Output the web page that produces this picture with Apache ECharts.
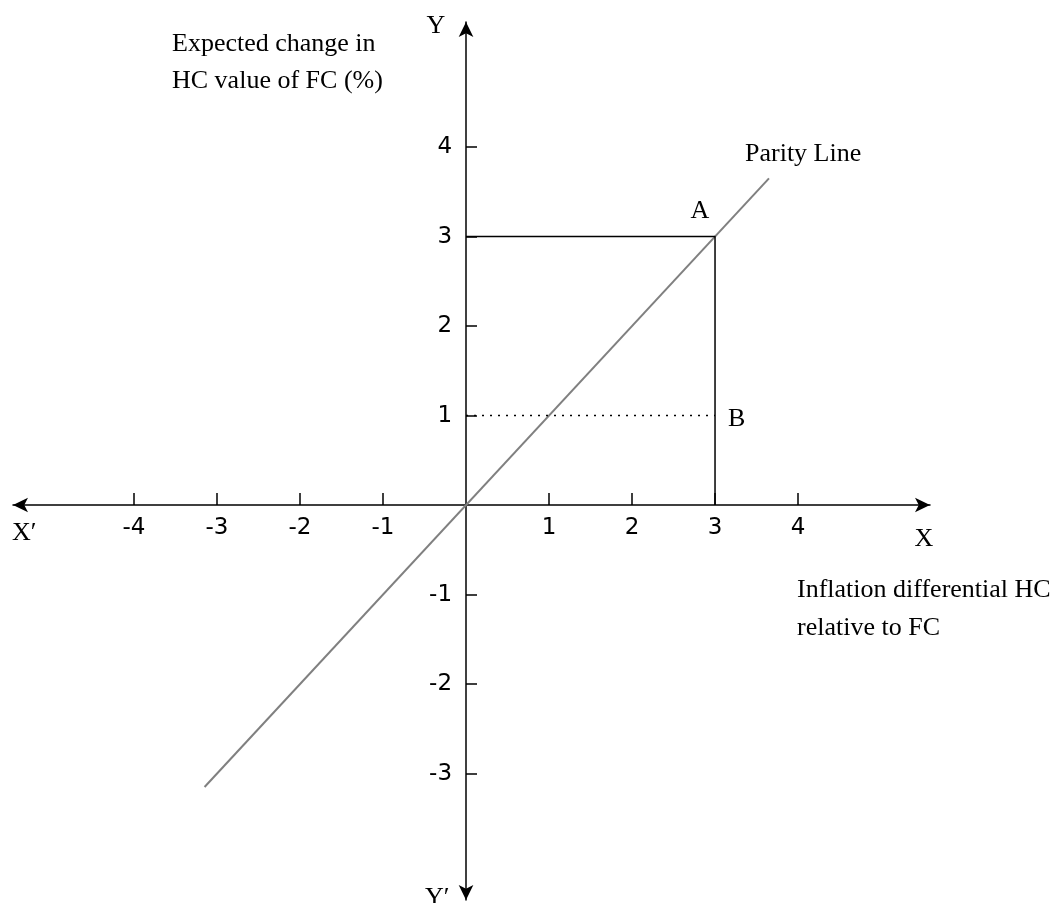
<!DOCTYPE html>
<html>
<head>
<meta charset="utf-8">
<script src="https://cdn.jsdelivr.net/npm/echarts@6/dist/echarts.min.js"></script>
<style>
html,body{margin:0;padding:0;background:#fff;}
#chart{width:1053px;height:903px;}
</style>
</head>
<body>
<div id="chart"></div>
<script>
// ---- data ----
const xTickValues = [-4, -3, -2, -1, 1, 2, 3, 4];
const yTickValues = [-3, -2, -1, 1, 2, 3, 4];
const parityLine = [[-3.15, -3.15], [3.65, 3.65]];
const pointA = [3, 3];
const pointB = [3, 1];
const rectPath = [[0, pointA[1]], pointA, [pointA[0], 0]];
const dottedPath = [[0, pointB[1]], pointB];

// axis extents (in data units)
const xMin = -5.458, xMax = 5.590;
const yMin = -4.413, yMax = 5.397;

// layout
const gridLeft = 13, gridRight = 123, gridTop = 22, gridBottom = 3;
const W = 1053, H = 903;
const plotW = W - gridLeft - gridRight, plotH = H - gridTop - gridBottom;
// pixel distance from grid edge to the zero lines (so axes sit on zero)
const xAxisOffset = -(plotH * (0 - yMin) / (yMax - yMin));
const yAxisOffset = -(plotW * (0 - xMin) / (xMax - xMin));

const serif = '"Liberation Serif", "Times New Roman", serif';
const tickFont = '"DejaVu Sans", sans-serif';

function txt(text, x, y, align, vAlign) {
  return {
    type: 'text', x: x, y: y, silent: true,
    style: { text: text, font: '26px ' + serif, fill: '#000', align: align || 'left', verticalAlign: vAlign || 'middle' }
  };
}

const chart = echarts.init(document.getElementById('chart'));
chart.setOption({
  animation: false,
  backgroundColor: '#fff',
  grid: { left: gridLeft, right: gridRight, top: gridTop, bottom: gridBottom, containLabel: false, outerBoundsMode: 'none' },
  xAxis: {
    type: 'value', min: xMin, max: xMax,
    offset: xAxisOffset,
    splitLine: { show: false },
    axisLine: { show: true, onZero: false, symbol: ['arrow', 'arrow'], symbolSize: [11, 15],
      lineStyle: { color: '#000', width: 1.5 } },
    axisTick: { show: true, inside: true, length: 12, customValues: xTickValues,
      lineStyle: { color: '#000', width: 1.5 } },
    axisLabel: { show: true, customValues: xTickValues, margin: 11, color: '#000',
      fontFamily: tickFont, fontSize: 23 }
  },
  yAxis: {
    type: 'value', min: yMin, max: yMax,
    offset: yAxisOffset,
    splitLine: { show: false },
    axisLine: { show: true, onZero: false, symbol: ['arrow', 'arrow'], symbolSize: [11, 15],
      lineStyle: { color: '#000', width: 1.5 } },
    axisTick: { show: true, inside: true, length: 11, customValues: yTickValues,
      lineStyle: { color: '#000', width: 1.5 } },
    axisLabel: { show: true, customValues: yTickValues, margin: 14, color: '#000',
      fontFamily: tickFont, fontSize: 23 }
  },
  series: [
    { type: 'line', name: 'Parity Line', data: parityLine, symbol: 'none', silent: true,
      lineStyle: { color: '#808080', width: 2 } },
    { type: 'line', name: 'rect', data: rectPath, symbol: 'none', silent: true,
      lineStyle: { color: '#000', width: 1.5 } },
    { type: 'line', name: 'dotted', data: dottedPath, symbol: 'none', silent: true,
      lineStyle: { color: '#000', width: 1.5, type: [2, 6] } }
  ],
  graphic: [
    txt('Expected change in', 172, 44),
    txt('HC value of FC (%)', 172, 81),
    txt('Inflation differential HC', 797, 590),
    txt('relative to FC', 797, 628),
    txt('Parity Line', 745, 154),
    txt('A', 700, 211, 'center'),
    txt('B', 728, 419),
    txt('X', 924, 539, 'center'),
    txt('Y', 436, 26, 'center'),
    txt('X\u2032', 12, 533),
    txt('Y\u2032', 425, 898)
  ]
});
</script>
</body>
</html>
